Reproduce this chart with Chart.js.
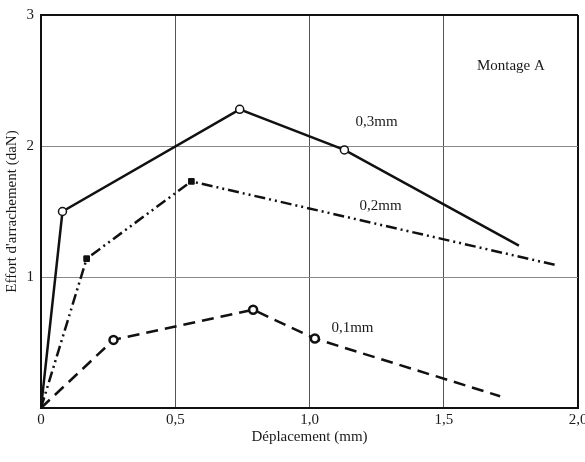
<!DOCTYPE html>
<html>
<head>
<meta charset="utf-8">
<script src="https://cdn.jsdelivr.net/npm/chart.js@4/dist/chart.umd.min.js"></script>
<style>
  html, body { margin: 0; padding: 0; background: #fff; }
  #wrap { width: 585px; height: 462px; }
</style>
</head>
<body>
<div id="wrap"><canvas id="chart" width="585" height="462"></canvas></div>
<script>
// values (x: Déplacement mm, y: effort daN)
const x03 = [0, 0.08, 0.74, 1.13, 1.78];
const y03 = [0, 1.50, 2.28, 1.97, 1.24];
const x02 = [0, 0.17, 0.56, 1.92];
const y02 = [0, 1.14, 1.73, 1.09];
const x01 = [0, 0.27, 0.79, 1.02, 1.71];
const y01 = [0, 0.52, 0.75, 0.53, 0.09];

const xTickLabels = {0: '0', 0.5: '0,5', 1: '1,0', 1.5: '1,5', 2: '2,0'};
const yTickLabels = {0: '', 1: '1', 2: '2', 3: '3'};

const seriesNames = ['0,3mm', '0,2mm', '0,1mm'];
const panelTitle = 'Montage A';

const serif = "'Liberation Serif', 'DejaVu Serif', serif";

function pts(xs, ys) {
    return xs.map((x, i) => ({x: x, y: ys[i]}));
}

// only the inner points carry a marker
function innerRadius(r) {
    return ctx => {
        const n = ctx.dataset.data.length;
        return (ctx.dataIndex === 0 || ctx.dataIndex === n - 1) ? 0 : r;
    };
}

// curve names and panel title drawn at data coordinates
const textPlugin = {
    id: 'curveText',
    afterDatasetsDraw(chart) {
        const {ctx, scales} = chart;
        const items = [
            {t: seriesNames[0], x: 1.25, y: 2.18},
            {t: seriesNames[1], x: 1.265, y: 1.54},
            {t: seriesNames[2], x: 1.16, y: 0.61},
            {t: panelTitle, x: 1.75, y: 2.61}
        ];
        ctx.save();
        ctx.fillStyle = '#1a1a1a';
        ctx.font = '15px ' + serif;
        ctx.textAlign = 'center';
        ctx.textBaseline = 'middle';
        items.forEach(it => {
            ctx.fillText(it.t, scales.x.getPixelForValue(it.x), scales.y.getPixelForValue(it.y));
        });
        ctx.restore();
    }
};

new Chart(document.getElementById('chart').getContext('2d'), {
    type: 'line',
    data: {
        datasets: [{
            label: seriesNames[0],
            data: pts(x03, y03),
            borderColor: '#111',
            borderWidth: 2.5,
            pointStyle: 'circle',
            pointRadius: innerRadius(4),
            pointBackgroundColor: '#fff',
            pointBorderColor: '#111',
            pointBorderWidth: 1.5
        }, {
            label: seriesNames[1],
            data: pts(x02, y02),
            borderColor: '#111',
            borderWidth: 2.5,
            borderDash: [11, 4, 2, 4, 2, 4],
            pointStyle: 'rect',
            pointRadius: innerRadius(4),
            pointBackgroundColor: '#111',
            pointBorderColor: '#111',
            pointBorderWidth: 1
        }, {
            label: seriesNames[2],
            data: pts(x01, y01),
            borderColor: '#111',
            borderWidth: 2.5,
            borderDash: [12, 7],
            pointStyle: 'circle',
            pointRadius: innerRadius(4),
            pointBackgroundColor: '#fff',
            pointBorderColor: '#111',
            pointBorderWidth: 2.5
        }]
    },
    options: {
        responsive: false,
        animation: false,
        events: [],
        layout: { padding: { top: 15, right: 7, left: 0, bottom: 0 } },
        elements: { line: { tension: 0, fill: false } },
        plugins: {
            legend: { display: false },
            tooltip: { enabled: false }
        },
        scales: {
            x: {
                type: 'linear',
                min: 0,
                max: 2,
                afterFit: s => { s.height = 54; s.paddingLeft = 0; s.paddingRight = 0; },
                ticks: {
                    stepSize: 0.5,
                    color: '#1a1a1a',
                    font: { family: serif, size: 15 },
                    padding: 3,
                    maxRotation: 0,
                    callback: v => xTickLabels[v] ?? ''
                },
                grid: {
                    drawTicks: false,
                    color: c => c.tick && c.tick.value === 2 ? '#111' : '#555',
                    lineWidth: c => c.tick && c.tick.value === 2 ? 2 : 1
                },
                border: { display: true, color: '#111', width: 2 },
                title: {
                    display: true,
                    text: 'Déplacement (mm)',
                    color: '#1a1a1a',
                    font: { family: serif, size: 15 },
                    padding: { top: 16, bottom: 16 }
                }
            },
            y: {
                type: 'linear',
                min: 0,
                max: 3,
                afterFit: s => { s.width = 41; s.paddingTop = 0; s.paddingBottom = 0; },
                ticks: {
                    stepSize: 1,
                    color: '#1a1a1a',
                    font: { family: serif, size: 15 },
                    padding: 7,
                    callback: v => yTickLabels[v] ?? ''
                },
                grid: {
                    drawTicks: false,
                    color: c => c.tick && c.tick.value === 3 ? '#111' : '#888',
                    lineWidth: c => c.tick && c.tick.value === 3 ? 2 : 1
                },
                border: { display: true, color: '#111', width: 2 },
                title: {
                    display: true,
                    text: "Effort d'arrachement (daN)",
                    color: '#1a1a1a',
                    font: { family: serif, size: 15 },
                    padding: { top: 3, bottom: 3 }
                }
            }
        }
    },
    plugins: [textPlugin]
});
</script>
</body>
</html>
